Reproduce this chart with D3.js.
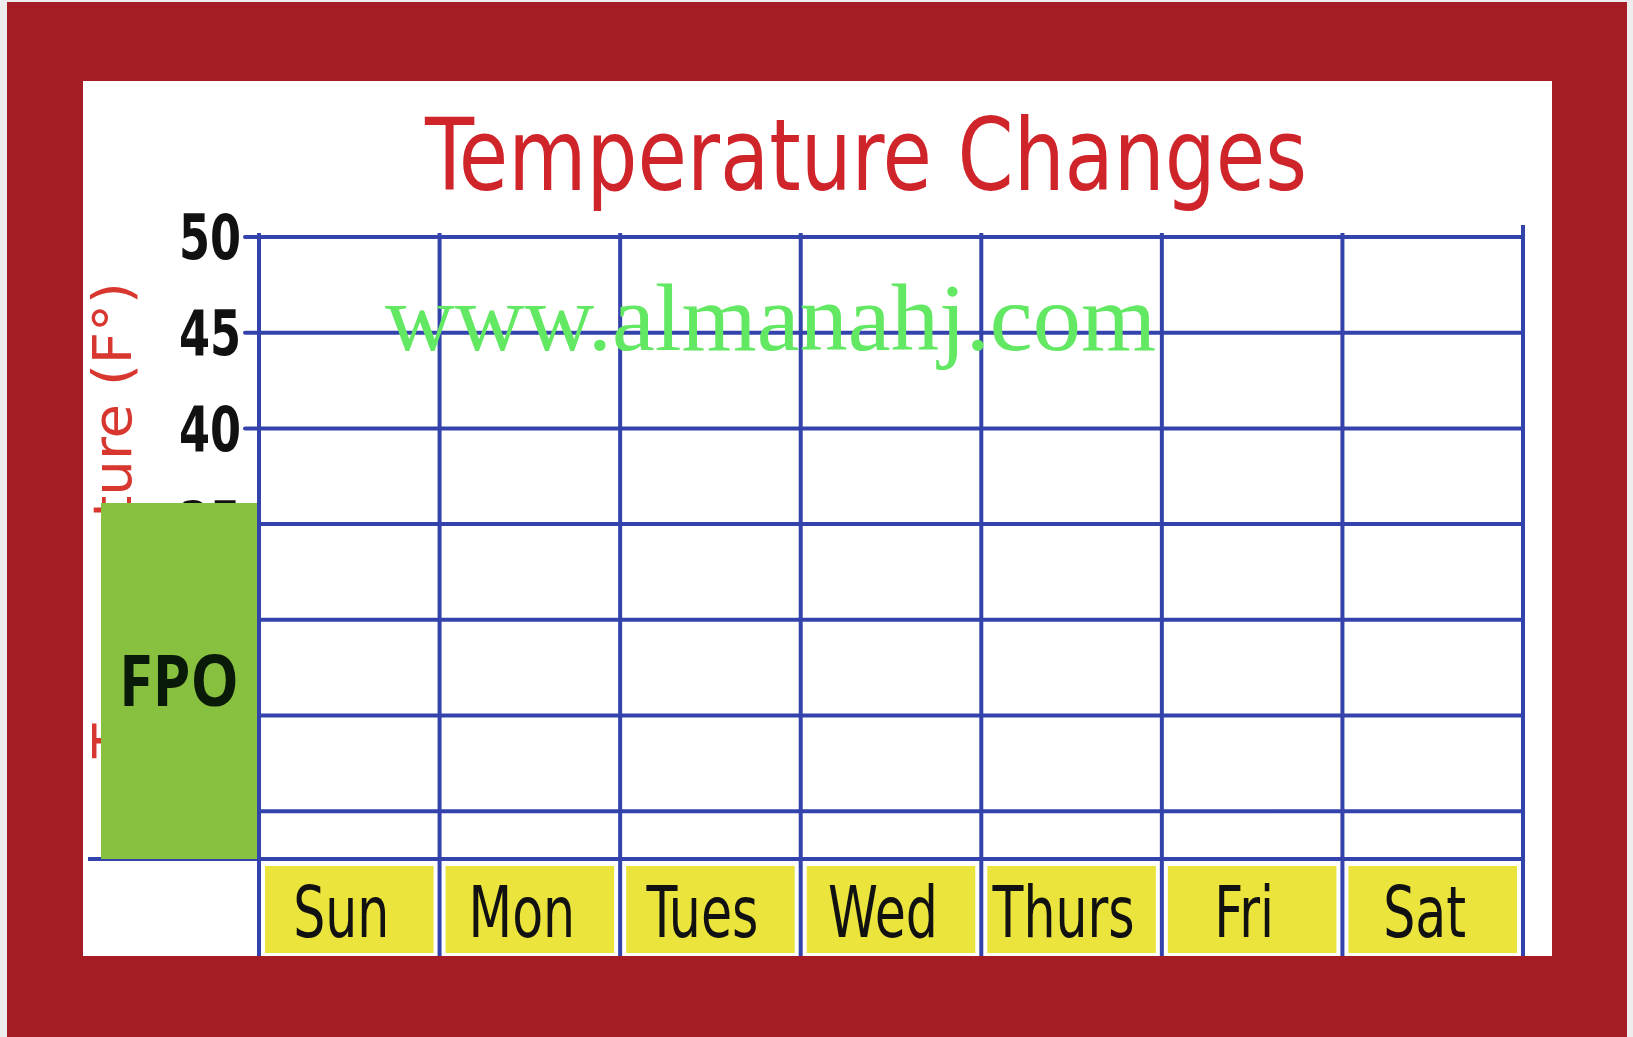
<!DOCTYPE html>
<html>
<head>
<meta charset="utf-8">
<script src="https://cdn.jsdelivr.net/npm/d3@7"></script>
<style>
  body { margin: 0; background: #eeeeee; }
  svg { display: block; }
  .hand { font-family: "Liberation Sans Narrow", "DejaVu Sans Condensed", "Liberation Sans", sans-serif; }
</style>
</head>
<body>
<div id="chart-container"></div>
<script>
const days = ["Sun", "Mon", "Tues", "Wed", "Thurs", "Fri", "Sat"];
const temperatureTicks = [20, 25, 30, 35, 40, 45, 50];
const temperatureDomain = [17.5, 50];
const chartTitle = "Temperature Changes";
const yAxisTitle = "Temperature (F°)";
const placeholderText = "FPO";
const watermarkText = "www.almanahj.com";

// squeeze a text horizontally to look more like the narrow handwriting
function squeeze(selection, ratio) {
  selection.each(function () {
    const len = this.getComputedTextLength();
    d3.select(this)
      .attr("textLength", len * ratio)
      .attr("lengthAdjust", "spacingAndGlyphs");
  });
}

class TemperatureBoard {
  constructor({ el, days, ticks, domain }) {
    this.el = el;
    this.days = days;
    this.ticks = ticks;
    this.domain = domain;
    this.initVis();
    this.updateVis();
  }

  initVis() {
    const vis = this;
    vis.width = 1633;
    vis.height = 1037;
    // plot area inside the white board
    vis.margin = { top: 237, right: 110, bottom: 178, left: 259 };

    vis.x = d3
      .scaleBand()
      .domain(vis.days)
      .range([vis.margin.left, vis.width - vis.margin.right])
      .padding(0);
    vis.y = d3
      .scaleLinear()
      .domain(vis.domain)
      .range([vis.height - vis.margin.bottom, vis.margin.top]);

    vis.svg = d3
      .select(vis.el)
      .append("svg")
      .attr("width", vis.width)
      .attr("height", vis.height)
      .attr("viewBox", [0, 0, vis.width, vis.height]);

    // red frame + white board
    vis.svg.append("rect")
      .attr("x", 7).attr("y", 2)
      .attr("width", 1620).attr("height", 1035)
      .attr("fill", "#a61c24");
    vis.board = { x0: 83, y0: 81, x1: 1552, y1: 956 };
    vis.svg.append("rect")
      .attr("x", vis.board.x0).attr("y", vis.board.y0)
      .attr("width", vis.board.x1 - vis.board.x0)
      .attr("height", vis.board.y1 - vis.board.y0)
      .attr("fill", "#ffffff");

    vis.gLabels = vis.svg.append("g").attr("class", "day-labels");
    vis.gGrid = vis.svg.append("g").attr("class", "grid");
    vis.gy = vis.svg.append("g").attr("class", "axis hand");
    vis.gOverlay = vis.svg.append("g");
  }

  updateVis() {
    const vis = this;
    const blue = "#3443ab";
    const x0 = vis.x.range()[0];
    const x1 = vis.x.range()[1];
    const yBase = vis.y(vis.domain[0]);

    // yellow day boxes with labels
    const cells = vis.gLabels
      .selectAll("g.cell")
      .data(vis.days)
      .join("g")
      .attr("class", "cell");
    cells.append("rect")
      .attr("x", (d) => vis.x(d) + 6)
      .attr("y", yBase + 7)
      .attr("width", vis.x.bandwidth() - 12)
      .attr("height", vis.board.y1 - yBase - 10)
      .attr("fill", "#ebe43c");
    cells.append("text")
      .attr("class", "hand")
      .attr("x", (d) => vis.x(d) + vis.x.bandwidth() / 2 - 8)
      .attr("y", yBase + 78)
      .attr("text-anchor", "middle")
      .attr("font-size", 72)
      .attr("fill", "#111")
      .text((d) => d)
      .call(squeeze, 0.78);

    // horizontal grid lines at each tick + baseline
    vis.gGrid
      .selectAll("line.h")
      .data(vis.ticks)
      .join("line")
      .attr("class", "h")
      .attr("x1", x0 - 14)
      .attr("x2", x1)
      .attr("y1", (d) => vis.y(d))
      .attr("y2", (d) => vis.y(d))
      .attr("stroke", blue)
      .attr("stroke-width", 4)
      .attr("stroke-linecap", "round");
    vis.gGrid.append("line")
      .attr("x1", vis.board.x0 + 5).attr("x2", x1)
      .attr("y1", yBase).attr("y2", yBase)
      .attr("stroke", blue).attr("stroke-width", 4);

    // vertical lines at column edges
    const edges = vis.days.map((d) => vis.x(d)).concat([x1]);
    vis.gGrid
      .selectAll("line.v")
      .data(edges)
      .join("line")
      .attr("class", "v")
      .attr("x1", (d) => d)
      .attr("x2", (d) => d)
      .attr("y1", (d, i) => vis.y(vis.domain[1]) - (i === edges.length - 1 ? 12 : 4))
      .attr("y2", vis.board.y1)
      .attr("stroke", blue)
      .attr("stroke-width", 4);

    // y tick labels
    vis.gy
      .selectAll("text")
      .data(vis.ticks)
      .join("text")
      .attr("x", x0 - 18)
      .attr("y", (d) => vis.y(d))
      .attr("dy", "0.36em")
      .attr("text-anchor", "end")
      .attr("font-size", 62)
      .attr("font-weight", "bold")
      .attr("fill", "#111")
      .text((d) => d)
      .call(squeeze, 0.8);

    // y axis title (rotated, partly covered)
    vis.gOverlay.append("text")
      .attr("class", "hand")
      .attr("transform", "translate(131,758) rotate(-90)")
      .attr("text-anchor", "start")
      .attr("font-size", 54)
      .attr("fill", "#d8372f")
      .attr("textLength", 476)
      .attr("lengthAdjust", "spacingAndGlyphs")
      .text(yAxisTitle);

    // FPO placeholder block
    vis.gOverlay.append("rect")
      .attr("x", 101).attr("y", 503)
      .attr("width", x0 - 103).attr("height", yBase - 503)
      .attr("fill", "#88c03f");
    vis.gOverlay.append("text")
      .attr("x", 179).attr("y", 706)
      .attr("text-anchor", "middle")
      .attr("font-family", "'Open Sans', 'Noto Sans', sans-serif")
      .attr("font-weight", "bold")
      .attr("font-size", 72)
      .attr("fill", "#0a1a08")
      .attr("textLength", 120)
      .attr("lengthAdjust", "spacingAndGlyphs")
      .text(placeholderText);

    // title
    vis.gOverlay.append("text")
      .attr("class", "hand")
      .attr("x", 425).attr("y", 190)
      .attr("font-size", 100)
      .attr("fill", "#d0242b")
      .attr("textLength", 882)
      .attr("lengthAdjust", "spacingAndGlyphs")
      .text(chartTitle);

    // watermark
    vis.gOverlay.append("text")
      .attr("x", 385).attr("y", 350)
      .attr("font-family", "'Liberation Serif', 'DejaVu Serif', serif")
      .attr("font-size", 96)
      .attr("fill", "#62e862")
      .attr("textLength", 771)
      .attr("lengthAdjust", "spacingAndGlyphs")
      .text(watermarkText);
  }
}

new TemperatureBoard({
  el: document.querySelector("#chart-container"),
  days,
  ticks: temperatureTicks,
  domain: temperatureDomain,
});
</script>
</body>
</html>
